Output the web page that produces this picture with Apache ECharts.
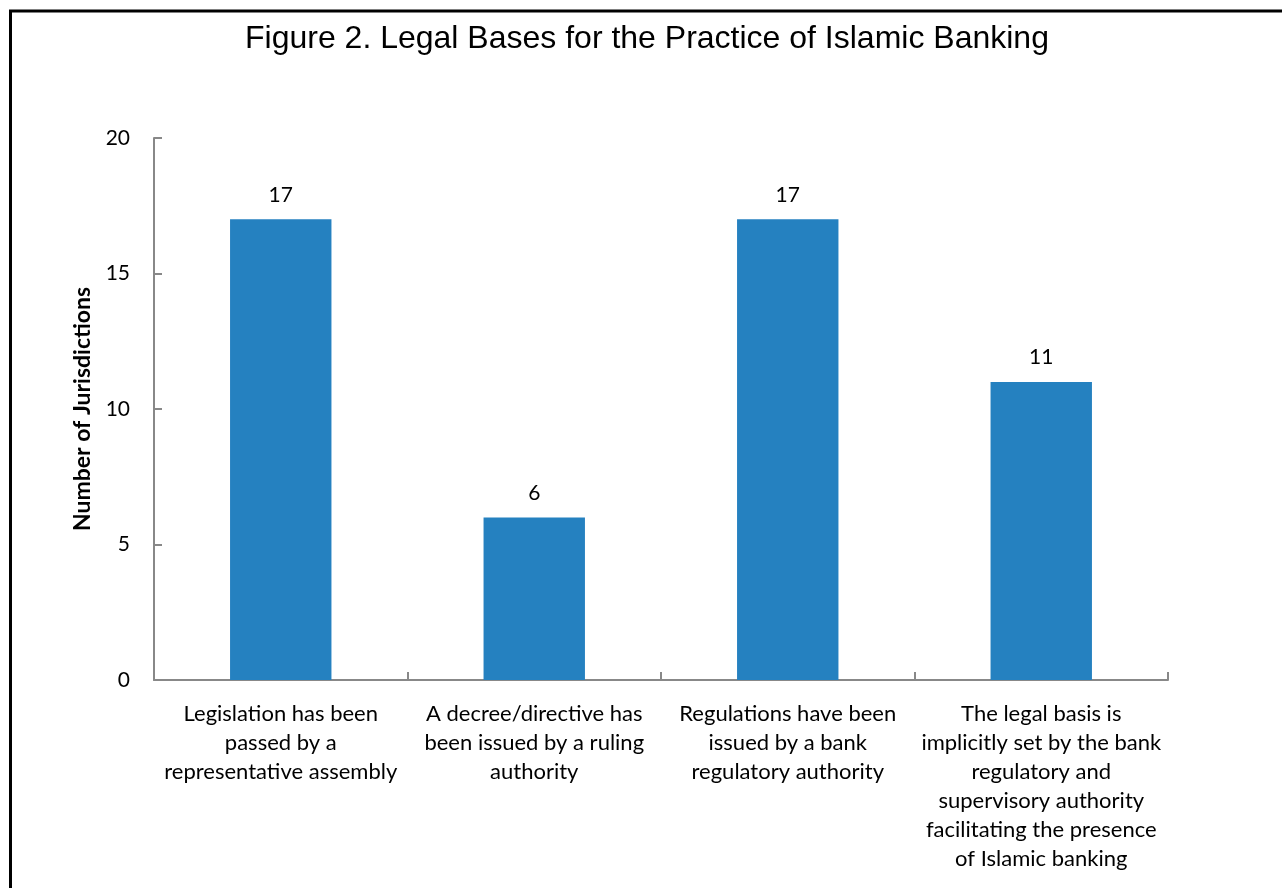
<!DOCTYPE html>
<html>
<head>
<meta charset="utf-8">
<script src="https://cdn.jsdelivr.net/npm/echarts@6/dist/echarts.min.js"></script>
<style>
html,body{margin:0;padding:0;background:#fff;}
#main{width:1282px;height:888px;}
</style>
</head>
<body>
<div id="main"></div>
<script>
const titleText = 'Figure 2. Legal Bases for the Practice of Islamic Banking';
const yAxisName = 'Number of Jurisdictions';
const categories = [
  'Legislation has been\npassed by a\nrepresentative assembly',
  'A decree/directive has\nbeen issued by a ruling\nauthority',
  'Regulations have been\nissued by a bank\nregulatory authority',
  'The legal basis is\nimplicitly set by the bank\nregulatory and\nsupervisory authority\nfacilitating the presence\nof Islamic banking'
];
const values = [17, 6, 17, 11];
const yTicks = [0, 5, 10, 15, 20];

const chart = echarts.init(document.getElementById('main'), null, {renderer: 'canvas'});
const labelFont = 'Lato, "Open Sans", sans-serif';
chart.setOption({
  animation: false,
  backgroundColor: '#fff',
  title: {
    text: titleText,
    left: 240,
    top: 18,
    textStyle: {fontFamily: '"Liberation Sans", Arial, sans-serif', fontSize: 32, fontWeight: 'normal', color: '#000'}
  },
  graphic: [{
    type: 'polyline',
    shape: {points: [[10.5, 888], [10.5, 11], [1282, 11]]},
    style: {stroke: '#000', lineWidth: 3, fill: null}
  }],
  grid: {left: 154, right: 114, top: 138, bottom: 208, containLabel: false},
  xAxis: {
    type: 'category',
    data: categories,
    axisLine: {lineStyle: {color: '#888', width: 2}},
    axisTick: {show: true, inside: true, length: 8, alignWithLabel: false, lineStyle: {color: '#888', width: 2}},
    axisLabel: {
      interval: 0, margin: 19, color: '#000',
      fontFamily: labelFont, fontSize: 22, lineHeight: 29
    }
  },
  yAxis: {
    type: 'value',
    min: yTicks[0], max: yTicks[yTicks.length - 1], interval: 5,
    name: yAxisName,
    nameLocation: 'middle',
    nameGap: 60,
    nameTextStyle: {fontFamily: labelFont, fontSize: 23, fontWeight: 'bold', color: '#000'},
    splitLine: {show: false},
    axisLine: {show: true, lineStyle: {color: '#888', width: 2}},
    axisTick: {show: true, inside: true, length: 8, lineStyle: {color: '#888', width: 2}},
    axisLabel: {margin: 24, color: '#000', fontFamily: labelFont, fontSize: 21}
  },
  series: [{
    type: 'bar',
    data: values,
    barWidth: '40%',
    itemStyle: {color: '#2581C0'},
    label: {show: true, position: 'top', distance: 14, color: '#000', fontFamily: labelFont, fontSize: 21}
  }]
});
</script>
</body>
</html>
